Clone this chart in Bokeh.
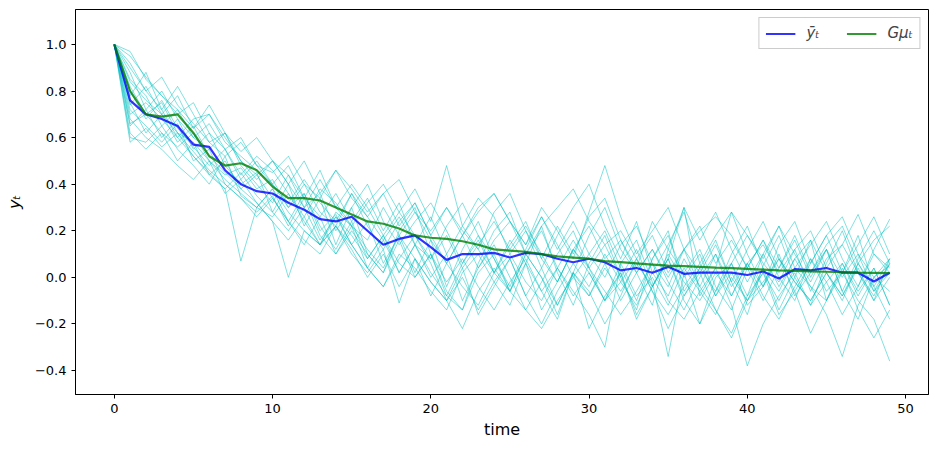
from bokeh.plotting import figure
from bokeh.models import Legend, LegendItem, FixedTicker, CustomJSTickFormatter, Range1d
from bokeh.embed import file_html
from bokeh.resources import INLINE

time = list(range(50))

y_bar = [1.00, 0.76, 0.70, 0.68, 0.65, 0.57, 0.56, 0.46, 0.40, 0.37,
         0.36, 0.32, 0.29, 0.25, 0.24, 0.26, 0.20, 0.14, 0.165, 0.18,
         0.13, 0.075, 0.10, 0.10, 0.105, 0.085, 0.105, 0.10, 0.08, 0.065,
         0.08, 0.065, 0.03, 0.04, 0.02, 0.045, 0.015, 0.02, 0.02, 0.02,
         0.01, 0.025, -0.005, 0.035, 0.03, 0.04, 0.02, 0.02, -0.018, 0.02]

g_mu = [1.00, 0.80, 0.70, 0.69, 0.70, 0.62, 0.52, 0.48, 0.49, 0.46,
        0.39, 0.34, 0.34, 0.33, 0.30, 0.27, 0.24, 0.23, 0.21, 0.18,
        0.17, 0.165, 0.155, 0.14, 0.12, 0.115, 0.11, 0.10, 0.09, 0.085,
        0.08, 0.07, 0.065, 0.06, 0.055, 0.05, 0.048, 0.045, 0.042, 0.04,
        0.036, 0.033, 0.03, 0.028, 0.026, 0.024, 0.022, 0.02, 0.019, 0.018]

path_01 = [1.0, 0.82, 0.70, 0.75, 0.62, 0.58, 0.50, 0.44, 0.47, 0.38,
           0.42, 0.30, 0.36, 0.20, 0.27, 0.14, 0.24, 0.06, 0.18, 0.02,
           0.16, -0.04, 0.12, 0.24, 0.08, -0.06, 0.10, 0.22, 0.02, -0.12,
           0.06, 0.18, 0.00, -0.14, 0.08, 0.20, -0.06, 0.04, 0.16, -0.02,
           -0.16, 0.05, 0.18, 0.00, -0.12, 0.06, 0.20, 0.02, -0.10, 0.08]
path_02 = [1.0, 0.65, 0.72, 0.60, 0.68, 0.55, 0.62, 0.48, 0.40, 0.45,
           0.28, 0.40, 0.22, 0.34, 0.14, 0.30, 0.10, 0.02, 0.20, 0.30,
           0.10, -0.08, -0.14, 0.06, 0.20, 0.28, 0.10, 0.00, -0.16, 0.02,
           0.18, 0.30, 0.12, 0.02, -0.12, 0.12, 0.02, -0.20, -0.06, 0.10,
           0.22, 0.04, -0.14, 0.00, 0.16, -0.10, 0.02, 0.18, -0.04, -0.18]
path_03 = [1.0, 0.90, 0.80, 0.72, 0.82, 0.70, 0.58, 0.62, 0.50, 0.42,
           0.50, 0.44, 0.34, 0.46, 0.30, 0.40, 0.30, 0.18, 0.28, 0.38,
           0.24, 0.48, 0.22, 0.34, 0.26, 0.10, 0.20, 0.04, 0.18, 0.30,
           0.40, 0.22, 0.08, 0.24, 0.02, 0.14, 0.28, 0.06, 0.18, 0.28,
           0.10, -0.04, 0.14, 0.24, 0.06, 0.18, 0.02, 0.14, 0.26, 0.10]
path_04 = [1.0, 0.60, 0.58, 0.65, 0.55, 0.48, 0.40, 0.52, 0.35, 0.30,
           0.38, 0.24, 0.14, 0.26, 0.10, 0.22, 0.04, -0.04, 0.10, 0.04,
           -0.06, -0.14, 0.02, 0.10, -0.02, -0.12, 0.06, -0.06, -0.18, 0.02,
           -0.06, -0.20, -0.08, 0.08, -0.06, -0.22, -0.08, 0.02, -0.14, -0.26,
           -0.10, 0.02, -0.16, -0.06, -0.24, -0.10, 0.04, -0.14, -0.26, -0.14]
path_05 = [1.0, 0.97, 0.85, 0.78, 0.70, 0.75, 0.62, 0.55, 0.60, 0.48,
           0.45, 0.52, 0.40, 0.34, 0.46, 0.38, 0.28, 0.36, 0.22, 0.32,
           0.18, 0.30, 0.20, 0.12, 0.28, 0.36, 0.20, 0.08, 0.22, 0.10,
           0.26, 0.34, 0.16, 0.04, 0.24, 0.12, 0.30, 0.16, 0.28, 0.12,
           -0.02, 0.10, 0.22, 0.04, 0.14, 0.24, 0.08, -0.04, 0.12, 0.25]
path_06 = [1.0, 0.75, 0.62, 0.70, 0.58, 0.65, 0.52, 0.45, 0.38, 0.44,
           0.34, 0.24, 0.36, 0.22, 0.12, 0.24, 0.08, 0.18, 0.02, 0.14,
           0.00, 0.10, -0.10, 0.04, 0.14, 0.00, -0.14, -0.02, 0.10, 0.20,
           0.04, -0.10, 0.02, -0.18, -0.04, 0.08, -0.10, -0.20, 0.00, 0.06,
           -0.12, -0.04, 0.10, -0.08, 0.02, 0.12, -0.06, -0.18, 0.00, 0.05]
path_07 = [1.0, 0.85, 0.78, 0.65, 0.72, 0.60, 0.66, 0.55, 0.42, 0.50,
           0.40, 0.30, 0.40, 0.28, 0.22, 0.36, 0.22, 0.12, 0.24, 0.32,
           0.18, 0.06, 0.18, 0.28, 0.36, 0.24, 0.14, 0.30, 0.20, 0.08,
           0.28, 0.48, 0.26, 0.10, 0.20, 0.30, 0.12, 0.02, 0.14, -0.02,
           0.12, 0.24, 0.08, -0.06, 0.06, 0.18, 0.26, 0.10, 0.00, 0.08]
path_08 = [1.0, 0.70, 0.75, 0.68, 0.60, 0.52, 0.45, 0.38, 0.07, 0.30,
           0.26, 0.36, 0.24, 0.14, 0.22, 0.12, 0.00, 0.10, -0.04, 0.08,
           -0.08, 0.06, -0.04, -0.12, 0.02, 0.10, -0.02, -0.10, 0.04, -0.06,
           -0.16, -0.30, 0.06, -0.08, 0.00, -0.12, 0.04, -0.06, -0.16, 0.00,
           -0.10, 0.04, -0.06, 0.08, -0.04, -0.10, 0.06, -0.06, 0.04, -0.12]
path_09 = [1.0, 0.78, 0.88, 0.72, 0.60, 0.68, 0.70, 0.58, 0.52, 0.46,
           0.40, 0.48, 0.34, 0.26, 0.36, 0.24, 0.34, 0.20, 0.32, 0.14,
           0.26, 0.10, 0.22, 0.12, 0.02, 0.14, 0.24, 0.08, -0.02, 0.12,
           0.02, -0.10, 0.06, 0.16, -0.02, -0.34, 0.02, 0.12, -0.04, -0.14,
           0.04, 0.16, 0.00, -0.10, 0.08, -0.02, -0.16, -0.04, 0.10, 0.02]
path_10 = [1.0, 0.62, 0.55, 0.62, 0.50, 0.58, 0.44, 0.38, 0.45, 0.35,
           0.28, 0.20, 0.30, 0.16, 0.26, 0.14, 0.04, -0.04, 0.08, 0.18,
           0.06, -0.10, 0.00, -0.14, -0.02, 0.08, -0.08, -0.20, -0.06, 0.06,
           -0.04, 0.10, -0.02, -0.12, 0.02, -0.08, 0.08, -0.04, -0.14, -0.24,
           -0.08, 0.02, -0.10, 0.04, -0.04, -0.16, -0.34, -0.12, 0.00, -0.06]
path_11 = [1.0, 0.88, 0.72, 0.80, 0.68, 0.60, 0.55, 0.62, 0.48, 0.40,
           0.32, 0.44, 0.30, 0.36, 0.20, 0.30, 0.40, 0.24, 0.14, 0.24,
           0.32, 0.20, 0.06, 0.18, 0.02, 0.16, 0.06, 0.22, 0.30, 0.38,
           0.24, 0.14, 0.20, 0.08, 0.18, 0.02, 0.12, -0.04, 0.10, -0.08,
           0.06, 0.14, 0.02, 0.12, -0.06, 0.08, 0.14, 0.02, -0.08, 0.06]
path_12 = [1.0, 0.72, 0.65, 0.58, 0.66, 0.50, 0.55, 0.40, 0.34, 0.28,
           0.35, 0.22, 0.34, 0.18, 0.10, 0.20, 0.10, 0.02, 0.16, 0.00,
           0.10, -0.06, -0.14, 0.02, 0.10, -0.06, 0.06, -0.14, -0.02, 0.12,
           0.04, -0.06, -0.16, -0.06, 0.06, -0.10, -0.18, -0.06, 0.04, -0.12,
           -0.38, -0.20, -0.08, 0.02, -0.12, -0.02, 0.06, -0.08, 0.04, -0.12]
path_13 = [1.0, 0.80, 0.68, 0.76, 0.64, 0.56, 0.48, 0.55, 0.44, 0.52,
           0.46, 0.36, 0.26, 0.38, 0.32, 0.22, 0.32, 0.40, 0.28, 0.18,
           0.08, 0.22, 0.32, 0.18, 0.08, -0.04, 0.12, 0.26, 0.14, 0.00,
           0.10, 0.20, 0.04, -0.10, 0.08, 0.18, 0.00, 0.10, -0.08, 0.06,
           0.18, 0.08, 0.22, 0.10, -0.02, 0.12, -0.06, 0.08, 0.20, 0.06]
path_14 = [1.0, 0.68, 0.60, 0.55, 0.48, 0.42, 0.50, 0.36, 0.42, 0.32,
           0.24, 0.00, 0.20, 0.14, 0.28, 0.22, 0.12, 0.04, 0.18, 0.08,
           -0.02, -0.10, 0.04, -0.16, -0.04, 0.08, -0.08, 0.04, -0.12, 0.02,
           -0.22, -0.08, 0.02, -0.16, -0.04, 0.08, -0.08, 0.04, -0.06, 0.06,
           -0.08, 0.10, -0.04, 0.08, 0.16, 0.02, -0.10, 0.06, -0.06, 0.02]
path_15 = [1.0, 0.92, 0.80, 0.86, 0.74, 0.66, 0.58, 0.52, 0.58, 0.48,
           0.40, 0.32, 0.42, 0.32, 0.24, 0.36, 0.26, 0.16, 0.26, 0.14,
           0.08, 0.18, 0.04, 0.14, 0.24, 0.12, 0.22, 0.10, -0.02, 0.12,
           0.22, 0.08, 0.16, 0.02, 0.12, 0.00, 0.12, 0.22, 0.06, 0.16,
           0.04, -0.10, 0.04, 0.16, 0.00, 0.12, 0.00, 0.10, -0.06, 0.06]
path_16 = [1.0, 0.74, 0.82, 0.70, 0.62, 0.54, 0.46, 0.40, 0.34, 0.26,
           0.34, 0.24, 0.16, 0.10, 0.22, 0.14, 0.04, 0.16, 0.02, 0.14,
           0.02, -0.08, 0.06, 0.16, 0.02, -0.06, 0.10, 0.00, -0.12, 0.02,
           -0.08, 0.06, -0.10, 0.02, 0.12, -0.02, -0.14, 0.00, 0.10, -0.04,
           0.06, -0.08, -0.18, -0.04, 0.08, -0.06, 0.02, -0.10, -0.18, -0.36]
path_17 = [1.0, 0.84, 0.76, 0.70, 0.78, 0.64, 0.70, 0.60, 0.50, 0.44,
           0.50, 0.40, 0.30, 0.42, 0.30, 0.22, 0.16, 0.30, 0.18, 0.28,
           0.16, 0.06, 0.18, 0.04, 0.16, 0.24, 0.10, 0.20, 0.04, 0.16,
           0.04, 0.14, 0.00, 0.12, -0.04, 0.08, 0.30, -0.08, 0.04, 0.28,
           0.18, 0.06, -0.02, 0.12, 0.20, 0.04, 0.14, 0.27, 0.10, 0.04]
path_18 = [1.0, 0.58, 0.64, 0.56, 0.62, 0.52, 0.44, 0.50, 0.38, 0.32,
           0.24, 0.16, 0.26, 0.14, 0.22, 0.10, 0.02, 0.12, -0.11, 0.08,
           -0.02, -0.10, -0.22, -0.06, 0.04, -0.06, -0.14, -0.22, -0.10, 0.00,
           -0.08, 0.04, -0.06, 0.06, -0.04, 0.10, -0.02, -0.10, 0.02, -0.08,
           0.06, -0.04, 0.08, -0.02, -0.10, 0.02, -0.08, 0.06, -0.04, 0.08]
path_19 = [1.0, 0.95, 0.86, 0.78, 0.72, 0.64, 0.74, 0.62, 0.54, 0.60,
           0.50, 0.40, 0.50, 0.36, 0.46, 0.34, 0.26, 0.36, 0.42, 0.28,
           0.20, 0.30, 0.18, 0.30, 0.36, 0.24, 0.14, 0.26, 0.12, 0.24,
           0.10, 0.00, 0.14, 0.22, 0.06, -0.04, 0.12, 0.20, 0.26, 0.18,
           0.04, 0.16, 0.04, 0.18, 0.02, 0.14, 0.22, 0.06, 0.16, 0.22]
path_20 = [1.0, 0.66, 0.70, 0.62, 0.56, 0.62, 0.50, 0.42, 0.36, 0.30,
           0.38, 0.28, 0.20, 0.14, 0.26, 0.18, 0.08, 0.18, 0.06, 0.00,
           0.10, -0.02, 0.08, -0.04, -0.14, -0.02, 0.08, -0.06, 0.04, -0.08,
           0.02, -0.10, -0.02, 0.08, -0.06, -0.16, -0.04, 0.06, -0.08, 0.02,
           -0.10, -0.02, 0.08, -0.02, -0.10, 0.02, -0.08, 0.04, -0.10, 0.00]

paths = [path_01, path_02, path_03, path_04, path_05, path_06, path_07,
         path_08, path_09, path_10, path_11, path_12, path_13, path_14,
         path_15, path_16, path_17, path_18, path_19, path_20]

x_ticks = [0, 10, 20, 30, 40, 50]
y_ticks = [-0.4, -0.2, 0.0, 0.2, 0.4, 0.6, 0.8, 1.0]

FONT = "DejaVu Sans"

p = figure(width=930, height=445, output_backend="svg", toolbar_location=None,
           x_range=Range1d(-2.45, 51.45), y_range=Range1d(-0.503, 1.15),
           min_border_left=75, min_border_right=2, min_border_top=9,
           min_border_bottom=51)
p.grid.visible = False
p.outline_line_color = "black"
p.outline_line_width = 1
p.background_fill_color = "white"
p.border_fill_color = "white"

for pth in paths:
    p.line(list(range(len(pth))), pth, line_color="#00BFBF", line_alpha=0.55,
           line_width=0.9)

r_bar = p.line(time, y_bar, line_color="blue", line_alpha=0.8, line_width=2.2)
r_g = p.line(time, g_mu, line_color="green", line_alpha=0.8, line_width=2.2)

for ax in (p.xaxis[0], p.yaxis[0]):
    ax.major_tick_in = 0
    ax.major_tick_out = 4
    ax.minor_tick_line_color = None
    ax.axis_line_color = "black"
    ax.major_label_text_font = FONT
    ax.major_label_text_font_size = "13px"
    ax.major_label_text_color = "black"
    ax.axis_label_text_font = FONT
    ax.axis_label_text_font_size = "16px"
    ax.axis_label_text_font_style = "normal"
    ax.axis_label_text_color = "black"

p.xaxis.ticker = FixedTicker(ticks=x_ticks)
p.yaxis.ticker = FixedTicker(ticks=y_ticks)
p.yaxis.formatter = CustomJSTickFormatter(
    code="return tick.toFixed(1).replace('-', '\u2212');")
p.xaxis.axis_label = "time"
p.yaxis.axis_label = "y\u209c"
p.yaxis.axis_label_text_font_style = "italic"
p.xaxis.major_label_standoff = 5
p.xaxis.axis_label_standoff = 4
p.yaxis.major_label_standoff = 5
p.yaxis.axis_label_standoff = 8

legend = Legend(items=[LegendItem(label="\u0233\u209c", renderers=[r_bar]),
                       LegendItem(label="G\u03bc\u209c", renderers=[r_g])],
                location="top_right", orientation="horizontal")
legend.label_text_font = FONT
legend.label_text_font_size = "15px"
legend.label_text_font_style = "italic"
legend.border_line_color = "#cccccc"
legend.border_line_alpha = 1
legend.background_fill_alpha = 0.8
legend.glyph_width = 30
legend.label_standoff = 11
legend.spacing = 20
legend.padding = 6
legend.margin = 8
legend.label_height = 15
legend.glyph_height = 15
p.add_layout(legend)

open("out.html", "w").write(file_html(p, INLINE))
